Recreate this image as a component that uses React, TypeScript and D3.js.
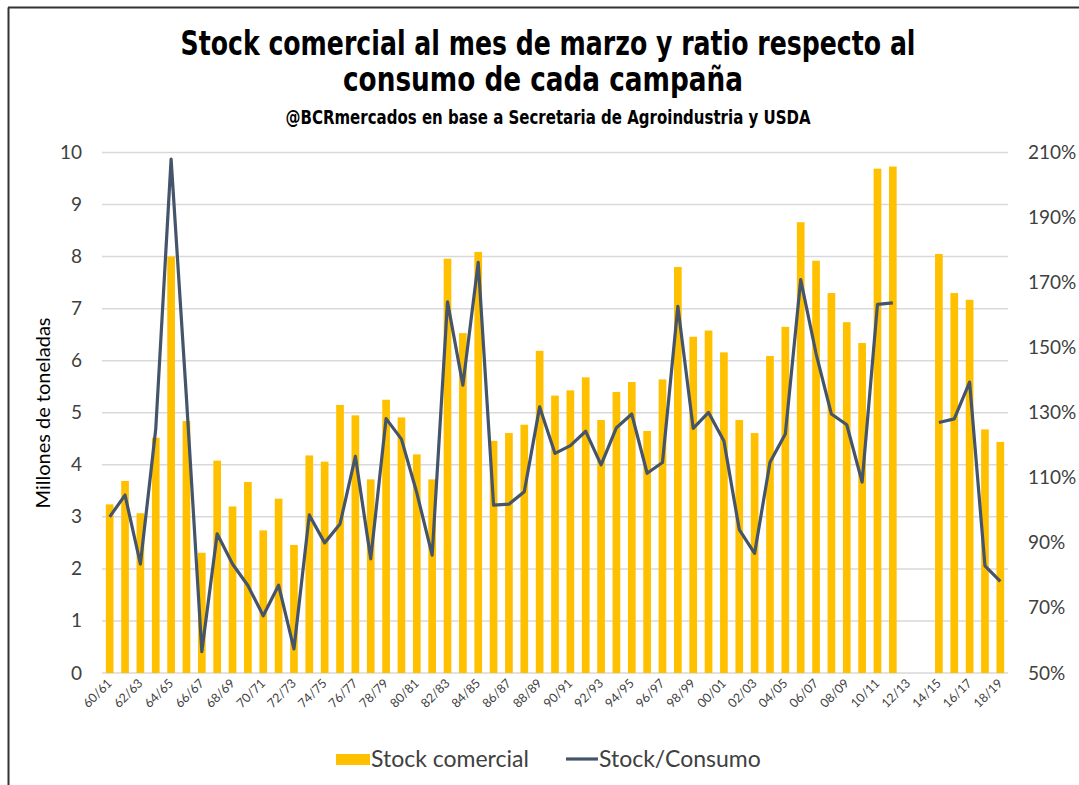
import React from "react";
import * as d3 from "d3";

const campaigns = [
  "60/61","61/62","62/63","63/64","64/65","65/66","66/67","67/68","68/69","69/70",
  "70/71","71/72","72/73","73/74","74/75","75/76","76/77","77/78","78/79","79/80",
  "80/81","81/82","82/83","83/84","84/85","85/86","86/87","87/88","88/89","89/90",
  "90/91","91/92","92/93","93/94","94/95","95/96","96/97","97/98","98/99","99/00",
  "00/01","01/02","02/03","03/04","04/05","05/06","06/07","07/08","08/09","09/10",
  "10/11","11/12","12/13","13/14","14/15","15/16","16/17","17/18","18/19",
];

const stockComercial: (number | null)[] = [
  3.24, 3.69, 3.07, 4.52, 8.0, 4.84, 2.31, 4.08, 3.2, 3.67,
  2.74, 3.35, 2.46, 4.18, 4.06, 5.15, 4.95, 3.72, 5.25, 4.91,
  4.2, 3.72, 7.96, 6.53, 8.09, 4.46, 4.61, 4.77, 6.19, 5.33,
  5.43, 5.68, 4.86, 5.4, 5.59, 4.65, 5.64, 7.8, 6.46, 6.58,
  6.16, 4.86, 4.61, 6.09, 6.65, 8.66, 7.92, 7.3, 6.74, 6.34,
  9.69, 9.73, null, null, 8.05, 7.3, 7.17, 4.68, 4.44,
];

const stockConsumo: (number | null)[] = [
  98, 104.7, 83.5, 125, 208, 134.5, 56.6, 92.8, 83.5, 76.9,
  67.6, 77, 57.4, 98.6, 90, 95.8, 116.6, 85.1, 128.2, 121.9,
  105.4, 86.2, 164.1, 138.5, 176.2, 101.6, 101.9, 105.7, 131.8, 117.5,
  119.9, 124.3, 114, 125.4, 129.6, 111.4, 114.7, 162.7, 125.2, 130.1,
  121.3, 94.1, 86.8, 114.8, 123.5, 170.9, 148.2, 129.6, 126.3, 108.7,
  163.3, 163.8, null, null, 127, 128.1, 139.4, 82.9, 78.2,
];

const leftTicks = [0, 1, 2, 3, 4, 5, 6, 7, 8, 9, 10];
const rightTicks = [50, 70, 90, 110, 130, 150, 170, 190, 210];

const W = 1079;
const H = 785;
const BAR = "#FFC000";
const LINE = "#44546A";
const GRID = "#D9D9D9";
const TXT = "#404040";
const FONT = "Lato, 'Open Sans', sans-serif";
const TFONT = "'Liberation Sans Narrow', 'DejaVu Sans Condensed', 'Roboto', sans-serif";

export default function App() {
  const x = d3.scaleBand<string>().domain(campaigns).range([102, 1008]).paddingInner(0.5).paddingOuter(0.25);
  const y = d3.scaleLinear().domain([0, 10]).range([673, 152.5]);
  const yR = d3.scaleLinear().domain([50, 210]).range([673, 152.5]);
  const cx = (c: string) => (x(c) ?? 0) + x.bandwidth() / 2;

  const lineGen = d3
    .line<number | null>()
    .defined((d) => d != null)
    .x((_, i) => cx(campaigns[i]))
    .y((d) => yR(d as number));

  return (
    <svg width={W} height={H} style={{ position: "absolute", left: 0, top: 0, background: "#fff" }}>
      <rect x={0} y={0} width={W} height={H} fill="#fff" />
      {/* frame */}
      <line x1={8.5} y1={7.5} x2={8.5} y2={H} stroke="#333" strokeWidth={2} />
      <line x1={8} y1={7.5} x2={W} y2={7.5} stroke="#333" strokeWidth={2} />

      {/* titles */}
      <text x={548} y={55} textAnchor="middle" fontFamily={TFONT} fontWeight="bold" fontSize={33}
        textLength={735} lengthAdjust="spacingAndGlyphs" fill="#000">
        Stock comercial al mes de marzo y ratio respecto al
      </text>
      <text x={543} y={91} textAnchor="middle" fontFamily={TFONT} fontWeight="bold" fontSize={33}
        textLength={400} lengthAdjust="spacingAndGlyphs" fill="#000">
        consumo de cada campaña
      </text>
      <text x={548} y={124} textAnchor="middle" fontFamily={TFONT} fontWeight="bold" fontSize={19}
        textLength={525} lengthAdjust="spacingAndGlyphs" fill="#000">
        @BCRmercados en base a Secretaria de Agroindustria y USDA
      </text>

      {/* grid */}
      {leftTicks.map((t) => (
        <line key={t} x1={102} x2={1008} y1={y(t)} y2={y(t)} stroke={GRID} strokeWidth={1.5} />
      ))}

      {/* bars */}
      {stockComercial.map((v, i) =>
        v == null ? null : (
          <rect key={i} x={x(campaigns[i])} y={y(v)} width={x.bandwidth()} height={y(0) - y(v)} fill={BAR} />
        )
      )}

      {/* line */}
      <path d={lineGen(stockConsumo) ?? ""} fill="none" stroke={LINE} strokeWidth={3.2} strokeLinejoin="round" />

      {/* left axis */}
      {leftTicks.map((t) => (
        <text key={t} x={82} y={y(t) + 6.5} textAnchor="end" fontFamily={FONT} fontSize={19} fill={TXT}>
          {t}
        </text>
      ))}
      <text transform={`translate(50,413) rotate(-90)`} textAnchor="middle" fontFamily={FONT} fontSize={20} fill="#000">
        Millones de toneladas
      </text>

      {/* right axis */}
      {rightTicks.map((t) => (
        <text key={t} x={1028} y={yR(t) + 6.5} textAnchor="start" fontFamily={FONT} fontSize={19} fill={TXT}>
          {t}%
        </text>
      ))}

      {/* x labels */}
      {campaigns.map((c, i) =>
        i % 2 === 0 ? (
          <text key={c} transform={`translate(${cx(c) + 3},${684}) rotate(-45)`} textAnchor="end"
            fontFamily={FONT} fontSize={12.5} fill={TXT}>
            {c}
          </text>
        ) : null
      )}

      {/* legend */}
      <rect x={336} y={754} width={34} height={11} fill={BAR} />
      <text x={371} y={767} fontFamily={FONT} fontSize={23} fill={TXT}>Stock comercial</text>
      <line x1={566} x2={598} y1={759} y2={759} stroke={LINE} strokeWidth={3.2} />
      <text x={599} y={767} fontFamily={FONT} fontSize={23} fill={TXT}>Stock/Consumo</text>
    </svg>
  );
}
